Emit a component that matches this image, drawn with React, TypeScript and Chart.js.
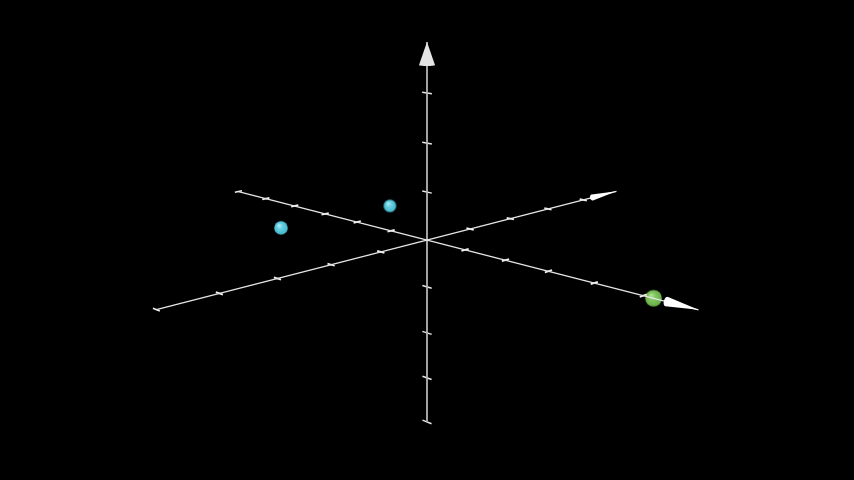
import React, { useEffect, useRef } from "react";
import { Chart, registerables } from "chart.js";

Chart.register(...registerables);

// ---- data (axis units) ----
const axisAExtent = [-6, 6.05];
const axisBExtent = [-5, 5];
const axisZExtent = [-4, 4];
const aTicks = [-5, -4, -3, -2, -1, 1, 2, 3, 4, 5];
const bTicks = [-4, -3, -2, -1, 1, 2, 3, 4];
const zTicks = [-3, -2, -1, 1, 2, 3];
const pointA = [-2.72, -2.57, 5.2];
const pointB = [-1.15, 1.2, 0];
const pointZ = [0, 0, 0];
const pointGroup = ["cyan", "cyan", "green"];
// arrowhead start (base) values along each axis
const arrowBaseA = 5.45;
const arrowBaseB = 4.27;
const arrowBaseZ = 3.55;

// ---- camera / style ----
const W = 854;
const H = 480;
const F = 1240;
const D = 23.7;
const PHI = (15.1 * Math.PI) / 180;
const SA = 1.015;
const SB = 1.225;
const SZ = 0.967;
const SPHERE_R = 0.135;
const groupColors: Record<string, string[]> = {
  cyan: ["#b4eef7", "#66d0e2", "#45b4cb"],
  green: ["#b2e099", "#82c760", "#67ad47"],
};

const cosP = Math.cos(PHI);
const sinP = Math.sin(PHI);
const R2 = Math.SQRT2;

function projW(wx: number, wy: number, wz: number) {
  const p = (wx + wy) / R2;
  const q = (wx - wy) / R2;
  const depth = D - cosP * q - sinP * wz;
  return { x: (F * p) / depth, y: (F * (cosP * wz - sinP * q)) / depth, depth };
}
function proj(a: number, b: number, z: number) {
  return projW(a * SA, b * SB, z * SZ);
}

function sphereImage(rpx: number, cols: string[]) {
  const size = Math.ceil(rpx * 2 + 2);
  const c = document.createElement("canvas");
  c.width = size;
  c.height = size;
  const ctx = c.getContext("2d")!;
  const cx = size / 2;
  const cy = size / 2;
  const g = ctx.createRadialGradient(cx - rpx * 0.3, cy - rpx * 0.4, rpx * 0.05, cx, cy, rpx);
  g.addColorStop(0, cols[0]);
  g.addColorStop(0.4, cols[1]);
  g.addColorStop(1, cols[2]);
  ctx.fillStyle = g;
  ctx.beginPath();
  ctx.arc(cx, cy, rpx, 0, Math.PI * 2);
  ctx.fill();
  return c;
}

function hull(pts: { x: number; y: number }[]) {
  const p = pts.slice().sort((a, b) => a.x - b.x || a.y - b.y);
  const cross = (o: any, a: any, b: any) => (a.x - o.x) * (b.y - o.y) - (a.y - o.y) * (b.x - o.x);
  const lower: any[] = [];
  for (const q of p) {
    while (lower.length >= 2 && cross(lower[lower.length - 2], lower[lower.length - 1], q) <= 0) lower.pop();
    lower.push(q);
  }
  const upper: any[] = [];
  for (let i = p.length - 1; i >= 0; i--) {
    const q = p[i];
    while (upper.length >= 2 && cross(upper[upper.length - 2], upper[upper.length - 1], q) <= 0) upper.pop();
    upper.push(q);
  }
  upper.pop();
  lower.pop();
  return lower.concat(upper);
}

type Cone = { tip: number[]; base: number[]; u: number[]; v: number[]; r: number; color: string };

const cones: Cone[] = [
  { tip: [0, 0, axisZExtent[1] * SZ], base: [0, 0, arrowBaseZ * SZ], u: [1, 0, 0], v: [0, 1, 0], r: 0.15, color: "#e4e4e4" },
  { tip: [axisAExtent[1] * SA, 0, 0], base: [arrowBaseA * SA, 0, 0], u: [0, 1, 0], v: [0, 0, 1], r: 0.08, color: "#ffffff" },
  { tip: [0, axisBExtent[1] * SB, 0], base: [0, arrowBaseB * SB, 0], u: [1, 0, 0], v: [0, 0, 1], r: 0.07, color: "#ffffff" },
];

const arrowPlugin = {
  id: "arrowheads",
  afterDatasetsDraw(chart: any) {
    const xs = chart.scales.x;
    const ys = chart.scales.y;
    const ctx = chart.ctx;
    const toPx = (pt: { x: number; y: number }) => ({ x: xs.getPixelForValue(pt.x), y: ys.getPixelForValue(pt.y) });
    for (const c of cones) {
      const pts = [toPx(projW(c.tip[0], c.tip[1], c.tip[2]))];
      for (let i = 0; i < 36; i++) {
        const t = (i / 36) * Math.PI * 2;
        const ct = Math.cos(t) * c.r;
        const st = Math.sin(t) * c.r;
        pts.push(
          toPx(
            projW(
              c.base[0] + c.u[0] * ct + c.v[0] * st,
              c.base[1] + c.u[1] * ct + c.v[1] * st,
              c.base[2] + c.u[2] * ct + c.v[2] * st
            )
          )
        );
      }
      const h = hull(pts);
      ctx.save();
      ctx.fillStyle = c.color;
      ctx.beginPath();
      h.forEach((p: any, i: number) => (i ? ctx.lineTo(p.x, p.y) : ctx.moveTo(p.x, p.y)));
      ctx.closePath();
      ctx.fill();
      ctx.restore();
    }
  },
};

function seg(p1: any, p2: any, color: string, width: number) {
  return {
    type: "scatter" as const,
    data: [
      { x: p1.x, y: p1.y },
      { x: p2.x, y: p2.y },
    ],
    showLine: true,
    borderColor: color,
    borderWidth: width,
    pointRadius: 0,
    pointHoverRadius: 0,
  };
}

export default function App() {
  const ref = useRef<HTMLCanvasElement>(null);
  useEffect(() => {
    document.body.style.margin = "0";
    document.body.style.background = "#000";
    const datasets: any[] = [];
    const lineCol = "#e6e6e6";
    const zCol = "#b4b4b4";
    datasets.push(seg(proj(axisAExtent[0], 0, 0), proj(axisAExtent[1], 0, 0), lineCol, 1.3));
    datasets.push(seg(proj(0, axisBExtent[0], 0), proj(0, axisBExtent[1], 0), lineCol, 1.3));
    datasets.push(seg(proj(0, 0, axisZExtent[0]), proj(0, 0, axisZExtent[1]), zCol, 1.8));
    const tl = 0.1;
    for (const a of aTicks) datasets.push(seg(projW(a * SA, -tl, 0), projW(a * SA, tl, 0), "#f0f0f0", 1.8));
    for (const b of bTicks) datasets.push(seg(projW(-tl, b * SB, 0), projW(tl, b * SB, 0), "#f0f0f0", 1.8));
    for (const z of zTicks) datasets.push(seg(projW(-0.13, 0, z * SZ), projW(0.13, 0, z * SZ), "#e8e8e8", 1.5));
    // end caps
    datasets.push(seg(projW(axisAExtent[0] * SA, -tl, 0), projW(axisAExtent[0] * SA, tl, 0), "#f0f0f0", 1.5));
    datasets.push(seg(projW(-tl, axisBExtent[0] * SB, 0), projW(tl, axisBExtent[0] * SB, 0), "#f0f0f0", 1.5));
    datasets.push(seg(projW(-0.13, 0, axisZExtent[0] * SZ), projW(0.13, 0, axisZExtent[0] * SZ), "#e8e8e8", 1.5));

    const spheres = pointA
      .map((a, i) => {
        const p = proj(a, pointB[i], pointZ[i]);
        return { ...p, g: pointGroup[i] };
      })
      .sort((m, n) => n.depth - m.depth);
    datasets.push({
      type: "scatter",
      data: spheres.map((s) => ({ x: s.x, y: s.y })),
      pointStyle: spheres.map((s) => sphereImage((SPHERE_R * F) / s.depth, groupColors[s.g])),
      pointRadius: 6,
      pointHoverRadius: 6,
      showLine: false,
    });

    const chart = new Chart(ref.current!, {
      type: "scatter",
      data: { datasets },
      options: {
        animation: false,
        responsive: false,
        maintainAspectRatio: false,
        events: [],
        layout: { padding: 0 },
        plugins: { legend: { display: false }, tooltip: { enabled: false } },
        scales: {
          x: { type: "linear", min: -W / 2, max: W / 2, display: false },
          y: { type: "linear", min: -H / 2, max: H / 2, display: false },
        },
      },
      plugins: [arrowPlugin],
    });
    return () => chart.destroy();
  }, []);
  return (
    <div style={{ width: W, height: H, background: "#000" }}>
      <canvas ref={ref} width={W} height={H} style={{ display: "block" }} />
    </div>
  );
}
